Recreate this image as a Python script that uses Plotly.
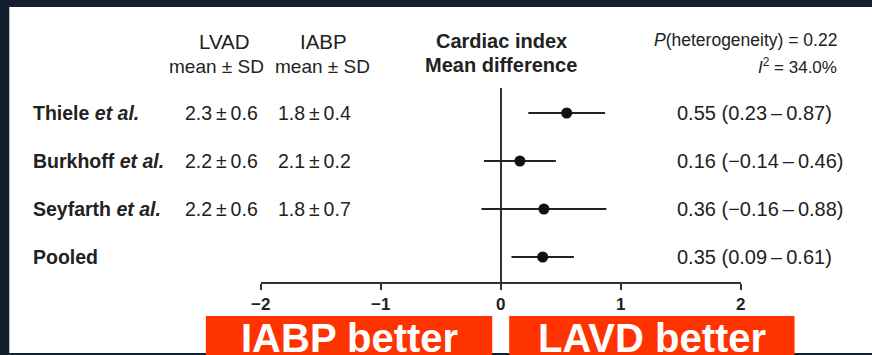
import plotly.graph_objects as go

W, H = 872, 355

studies = ["Thiele", "Burkhoff", "Seyfarth", "Pooled"]
has_etal = [True, True, True, False]
lvad = ["2.3±0.6", "2.2±0.6", "2.2±0.6", ""]
iabp = ["1.8±0.4", "2.1±0.2", "1.8±0.7", ""]
md = [0.55, 0.16, 0.36, 0.35]
ci_lo = [0.23, -0.14, -0.16, 0.09]
ci_hi = [0.87, 0.46, 0.88, 0.61]
row_pos = [4, 3, 2, 1]
x_ticks = [-2, -1, 0, 1, 2]
het_p = "0.22"
i2 = "34.0%"
left_band = "IABP better"
right_band = "LAVD better"

NAVY = "#141f2e"
ORANGE = "#ff3300"
INK = "#222222"
FONT = "Liberation Sans, Arial, Helvetica, sans-serif"

# the page shows the figure slightly offset/narrowed horizontally; compensate
OX, SX = 8.7, 0.985


def px_x(p):
    return ((p - OX) / SX) / W


def px_y(p):
    return (H - p) / H


def fmt(v):
    s = f"{abs(v):.2f}"
    return ("\u2212" + s) if v < 0 else s


def pm(s):
    return s.replace("±", "\u2009±\u2009")


fig = go.Figure()

fig.add_trace(go.Scatter(
    x=md, y=row_pos, mode="markers",
    marker=dict(size=11, color="#111111"),
    error_x=dict(type="data", symmetric=False,
                 array=[h - m for h, m in zip(ci_hi, md)],
                 arrayminus=[m - l for m, l in zip(md, ci_lo)],
                 width=0, thickness=2, color="#222222"),
    showlegend=False, hoverinfo="skip",
))

ann = []
for name, et, a, b, m, l, h, r in zip(studies, has_etal, lvad, iabp, md, ci_lo, ci_hi, row_pos):
    label = f"<b>{name} <i>et al.</i></b>" if et else f"<b>{name}</b>"
    ann.append(dict(x=px_x(30), y=r, xref="paper", yref="y", text=label,
                    xanchor="left", yanchor="middle", showarrow=False,
                    font=dict(size=19.5, color=INK, family=FONT)))
    if a:
        ann.append(dict(x=px_x(182), y=r, xref="paper", yref="y", text=pm(a),
                        xanchor="left", yanchor="middle", showarrow=False,
                        font=dict(size=19.5, color=INK, family=FONT)))
    if b:
        ann.append(dict(x=px_x(275), y=r, xref="paper", yref="y", text=pm(b),
                        xanchor="left", yanchor="middle", showarrow=False,
                        font=dict(size=19.5, color=INK, family=FONT)))
    ann.append(dict(x=px_x(675), y=r, xref="paper", yref="y",
                    text=f"{fmt(m)} ({fmt(l)}\u2009\u2013\u2009{fmt(h)})",
                    xanchor="left", yanchor="middle", showarrow=False,
                    font=dict(size=20, color=INK, family=FONT)))

# headers
hdr = [
    (223.5, 42, "LVAD", 20.5), (215.5, 67, "mean ± SD", 19),
    (323, 42, "IABP", 20.5), (322, 67, "mean ± SD", 19),
    (501, 41, "<b>Cardiac index</b>", 20), (500.5, 65, "<b>Mean difference</b>", 20),
]
for x, y, t, fs in hdr:
    ann.append(dict(x=px_x(x), y=px_y(y), xref="paper", yref="paper", text=t,
                    xanchor="center", yanchor="middle", showarrow=False,
                    font=dict(size=fs, color=INK, family=FONT)))
ann.append(dict(x=px_x(840), y=px_y(40), xref="paper", yref="paper",
                text=f"<i>P</i>(heterogeneity) = {het_p}", xanchor="right", yanchor="middle",
                showarrow=False, font=dict(size=17.5, color=INK, family=FONT)))
ann.append(dict(x=px_x(840), y=px_y(66), xref="paper", yref="paper",
                text=f"<i>I</i><sup>2</sup> = {i2}", xanchor="right", yanchor="middle",
                showarrow=False, font=dict(size=17, color=INK, family=FONT)))

# bottom bands
bands = [((205, 492), left_band), ((509, 795), right_band)]
for (x0, x1), t in bands:
    ann.append(dict(x=px_x((x0 + x1) / 2), y=px_y(337.5), xref="paper", yref="paper",
                    text=f"<b>{t}</b>", xanchor="center", yanchor="middle",
                    showarrow=False, font=dict(size=40, color="white", family=FONT)))

shapes = [
    dict(type="rect", xref="paper", yref="paper", x0=px_x(8), x1=px_x(880),
         y0=px_y(353), y1=px_y(7), fillcolor="white", line=dict(width=0), layer="below"),
]
for (x0, x1), t in bands:
    shapes.append(dict(type="rect", xref="paper", yref="paper", x0=px_x(x0), x1=px_x(x1),
                       y0=0, y1=px_y(316), fillcolor=ORANGE, line=dict(width=0), layer="above"))

fig.update_layout(
    width=W, height=H, margin=dict(l=0, r=0, t=0, b=0),
    paper_bgcolor=NAVY, plot_bgcolor="rgba(0,0,0,0)",
    annotations=ann, shapes=shapes, showlegend=False,
    xaxis=dict(domain=[px_x(260), px_x(741)], range=[-2, 2],
               tickvals=x_ticks, ticktext=[f"<b>{fmt(v)[:-3] if v != 0 else '0'}</b>" for v in x_ticks],
               showgrid=False, zeroline=True, zerolinecolor="#333333", zerolinewidth=2,
               showline=True, linecolor="#333333", linewidth=2,
               ticks="outside", ticklen=6, tickwidth=2, tickcolor="#333333",
               tickfont=dict(size=17, color=INK, family=FONT), fixedrange=True),
    yaxis=dict(domain=[px_y(282), px_y(88)], range=[0.479, 4.521],
               showgrid=False, zeroline=False, showline=False, showticklabels=False,
               ticks="", fixedrange=True),
)

fig.write_html("out.html")
